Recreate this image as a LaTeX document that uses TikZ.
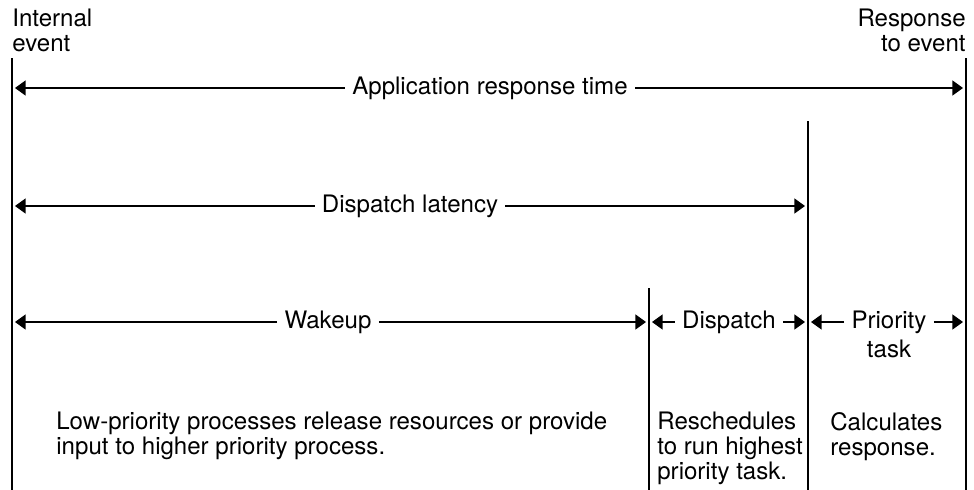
\documentclass[tikz,border=0pt]{standalone}
\usepackage{fontspec}
\setmainfont{TeX Gyre Heros}
\usetikzlibrary{arrows.meta}
\usetikzlibrary{positioning}

\begin{document}
\begin{tikzpicture}[x=0.02cm,y=-0.02cm,
  every node/.style={font=\fontsize{13.7}{14.1}\selectfont},
  span label/.style={inner xsep=4pt,inner ysep=0pt,text height=9.9pt,text depth=2.8pt},
  note/.style={inner sep=0pt,align=left},
  span/.style={-{Triangle[length=6pt,width=8.5pt]},line width=0.7pt},
  tline/.style={line width=0.85pt}]
\useasboundingbox (0,0) rectangle (974,490);

% time marks
\coordinate (ieTop) at (12,58);   \coordinate (ieBot) at (12,490);
\coordinate (reTop) at (966,58);  \coordinate (reBot) at (966,490);
\coordinate (dlTop) at (808,121); \coordinate (dlBot) at (808,490);
\coordinate (wkTop) at (649,288); \coordinate (wkBot) at (649,490);
\draw[tline] (ieTop) -- (ieBot);
\draw[tline] (reTop) -- (reBot);
\draw[tline] (dlTop) -- (dlBot);
\draw[tline] (wkTop) -- (wkBot);

\node[note,anchor=north west] (internal) at (12,9) {Internal\\event};
\node[note,anchor=north east,align=right] (response) at (966,9) {Response\\to event};

% application response time
\node[span label] (art) at (490,88) {Application response time};
\coordinate (artL) at (15,88); \coordinate (artR) at (963,88);
\draw[span] (art) -- (artL);
\draw[span] (art) -- (artR);

% dispatch latency
\node[span label] (dlat) at (410,206) {Dispatch latency};
\coordinate (dlatL) at (15,206); \coordinate (dlatR) at (805,206);
\draw[span] (dlat) -- (dlatL);
\draw[span] (dlat) -- (dlatR);

% phases
\node[span label] (wake) at (328,322) {Wakeup};
\coordinate (wakeL) at (15,322); \coordinate (wakeR) at (646,322);
\draw[span] (wake) -- (wakeL);
\draw[span] (wake) -- (wakeR);

\node[span label] (disp) at (729,322) {Dispatch};
\coordinate (dispL) at (652,322); \coordinate (dispR) at (805,322);
\draw[span] (disp) -- (dispL);
\draw[span] (disp) -- (dispR);

\node[span label] (prio) at (889,322) {Priority};
\node[span label,below=3.5pt of prio] (task) {task};
\coordinate (prioL) at (811,322); \coordinate (prioR) at (963,322);
\draw[span] (prio) -- (prioL);
\draw[span] (prio) -- (prioR);

% what happens in each phase
\node[note,anchor=north west] (lowprio) at (56,412)
  {Low-priority processes release resources or provide\\input to higher priority process.};
\node[note,anchor=north west] (resched) at (657,412)
  {Reschedules\\to run highest\\priority task.};
\node[note,anchor=north west] (calc) at (830,412)
  {Calculates\\response.};
\end{tikzpicture}
\end{document}
